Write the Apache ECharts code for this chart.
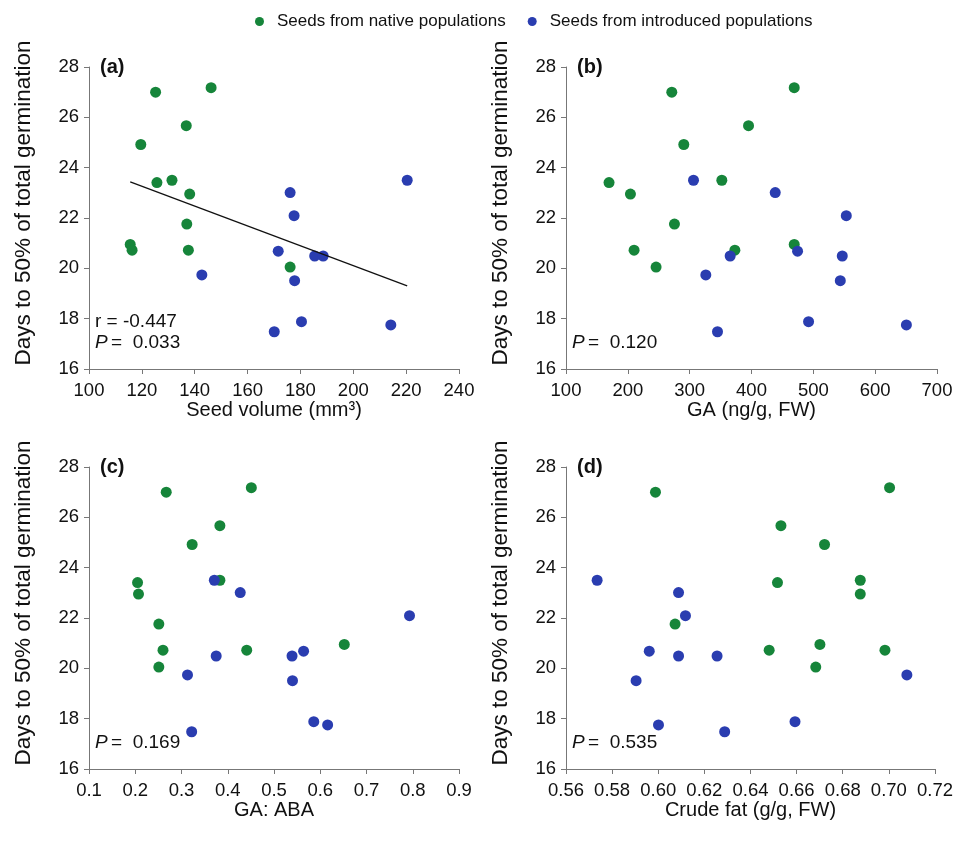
<!DOCTYPE html>
<html>
<head>
<meta charset="utf-8">
<script src="https://cdn.jsdelivr.net/npm/echarts@6/dist/echarts.min.js"></script>
<style>
  html, body { margin: 0; padding: 0; background: #ffffff; }
  #chart { width: 956px; height: 843px; }
</style>
</head>
<body>
<div id="chart"></div>
<script>
// Days to 50% of total germination, one value per seed population
const nativeDays     = [27.0, 27.18, 25.67, 24.92, 23.41, 23.5, 22.95, 21.76, 20.95, 20.72, 20.72, 20.05];
const introducedDays = [23.5, 23.01, 22.09, 20.68, 20.49, 20.49, 19.74, 19.51, 17.88, 17.75, 17.48];

// Seed volume (mm3)
const nativeVolume     = [125.2, 146.2, 136.8, 119.6, 125.7, 131.4, 138.1, 137.0, 115.6, 116.3, 137.6, 176.1];
const introducedVolume = [220.4, 176.1, 177.6, 171.6, 185.4, 188.6, 142.7, 177.8, 180.4, 214.2, 170.1];

// GA (ng/g, FW)
const nativeGA     = [271.1, 469.1, 395.2, 290.5, 169.6, 352.0, 204.2, 275.4, 469.1, 210.1, 373.1, 245.7];
const introducedGA = [306.2, 438.4, 553.3, 474.5, 365.5, 546.8, 326.1, 543.6, 492.3, 650.5, 345.0];

// GA:ABA ratio
const nativeRatio     = [0.267, 0.451, 0.383, 0.323, 0.205, 0.383, 0.207, 0.251, 0.652, 0.260, 0.441, 0.251];
const introducedRatio = [0.371, 0.427, 0.793, 0.564, 0.375, 0.539, 0.313, 0.540, 0.586, 0.616, 0.322];

// Crude fat (g/g, FW)
const nativeFat     = [0.5988, 0.7003, 0.6532, 0.6721, 0.6517, 0.6876, 0.6876, 0.6073, 0.6701, 0.6481, 0.6983, 0.6683];
const introducedFat = [0.5735, 0.6088, 0.6118, 0.5961, 0.6088, 0.6255, 0.7078, 0.5904, 0.6593, 0.6001, 0.6288];

// Panel annotations
const panelLetters = ['(a)', '(b)', '(c)', '(d)'];
const pValues = ['0.033', '0.120', '0.169', '0.535'];
const rValueA = '-0.447';

const GREEN = '#16853a';
const BLUE = '#2a3db0';
const FONT = '"Liberation Sans", Arial, sans-serif';
const AXIS_COLOR = '#777777';
const TEXT_COLOR = '#111111';

const pair = (xs, ys) => xs.map((x, i) => [x, ys[i]]);

// Least-squares fit for panel (a), drawn across the observed volume range
const allVol = nativeVolume.concat(introducedVolume);
const allDays = nativeDays.concat(introducedDays);
const n = allVol.length;
const mx = allVol.reduce((a, b) => a + b, 0) / n;
const my = allDays.reduce((a, b) => a + b, 0) / n;
let sxy = 0, sxx = 0;
for (let i = 0; i < n; i++) { sxy += (allVol[i] - mx) * (allDays[i] - my); sxx += (allVol[i] - mx) ** 2; }
const slope = sxy / sxx;
const intercept = my - slope * mx;
const xMin = Math.min(...allVol), xMax = Math.max(...allVol);
const fitLine = [[xMin, intercept + slope * xMin], [xMax, intercept + slope * xMax]];

const grids = [
  { left: 89,  top: 67,  width: 370, height: 302 },
  { left: 566, top: 67,  width: 371, height: 302 },
  { left: 89,  top: 467, width: 370, height: 302 },
  { left: 566, top: 467, width: 371, height: 302 }
];

const xSpecs = [
  { name: 'Seed volume (mm³)', min: 100, max: 240, interval: 20, fmt: v => String(v) },
  { name: 'GA (ng/g, FW)', min: 100, max: 700, interval: 100, fmt: v => String(v) },
  { name: 'GA: ABA', min: 0.1, max: 0.9, interval: 0.1, fmt: v => v.toFixed(1) },
  { name: 'Crude fat (g/g, FW)', min: 0.56, max: 0.72, interval: 0.02, fmt: v => v.toFixed(2) }
];

const axisLineStyle = { show: true, lineStyle: { color: AXIS_COLOR, width: 1 } };

const xAxes = xSpecs.map((s, i) => ({
  type: 'value', gridIndex: i, min: s.min, max: s.max, interval: s.interval,
  name: s.name, nameLocation: 'middle', nameGap: 29,
  nameTextStyle: { fontFamily: FONT, fontSize: 20, color: TEXT_COLOR },
  axisLine: axisLineStyle,
  axisTick: { show: true, inside: false, length: 5, lineStyle: { color: AXIS_COLOR } },
  axisLabel: { fontFamily: FONT, fontSize: 18.5, color: TEXT_COLOR, margin: 12, formatter: s.fmt },
  splitLine: { show: false }
}));

const yAxes = grids.map((g, i) => ({
  type: 'value', gridIndex: i, min: 16, max: 28, interval: 2,
  name: 'Days to 50% of total germination', nameLocation: 'middle', nameGap: 54,
  nameTextStyle: { fontFamily: FONT, fontSize: 22.5, color: TEXT_COLOR, padding: [0, 0, 0, 30] },
  axisLine: axisLineStyle,
  axisTick: { show: true, inside: false, length: 5, lineStyle: { color: AXIS_COLOR } },
  axisLabel: { fontFamily: FONT, fontSize: 18.5, color: TEXT_COLOR, margin: 10 },
  splitLine: { show: false }
}));

const panelX = [
  [nativeVolume, introducedVolume],
  [nativeGA, introducedGA],
  [nativeRatio, introducedRatio],
  [nativeFat, introducedFat]
];

const series = [];
panelX.forEach((xs, i) => {
  series.push({
    name: 'Seeds from native populations', type: 'scatter', xAxisIndex: i, yAxisIndex: i,
    symbolSize: 11, itemStyle: { color: GREEN, opacity: 1 }, data: pair(xs[0], nativeDays), z: 3
  });
  series.push({
    name: 'Seeds from introduced populations', type: 'scatter', xAxisIndex: i, yAxisIndex: i,
    symbolSize: 11, itemStyle: { color: BLUE, opacity: 1 }, data: pair(xs[1], introducedDays), z: 3
  });
});
series.push({
  type: 'line', xAxisIndex: 0, yAxisIndex: 0, data: fitLine, showSymbol: false, symbol: 'none',
  lineStyle: { color: '#111111', width: 1.3 }, silent: true, z: 4
});

// Panel letters and statistics text
const graphics = [];
grids.forEach((g, i) => {
  graphics.push({
    type: 'text', left: g.left + 11, top: g.top - 10,
    style: { text: panelLetters[i], font: 'bold 20px ' + FONT, fill: TEXT_COLOR }
  });
  graphics.push({
    type: 'text', left: g.left + 6, top: g.top + 266,
    style: {
      text: '{i|P} {n|=  ' + pValues[i] + '}',
      rich: {
        i: { font: 'italic 19px ' + FONT, fill: TEXT_COLOR },
        n: { font: '19px ' + FONT, fill: TEXT_COLOR }
      }
    }
  });
});
graphics.push({
  type: 'text', left: grids[0].left + 6, top: grids[0].top + 245,
  style: { text: 'r = ' + rValueA, font: '19px ' + FONT, fill: TEXT_COLOR }
});

const chart = echarts.init(document.getElementById('chart'), null, { renderer: 'canvas' });
chart.setOption({
  backgroundColor: '#ffffff',
  animation: false,
  legend: {
    top: 8, left: 250, itemGap: 22,
    icon: 'circle', itemWidth: 9, itemHeight: 9, itemStyle: { borderWidth: 0 },
    textStyle: { fontFamily: FONT, fontSize: 17, color: TEXT_COLOR, padding: [0, 0, 0, 8] },
    data: ['Seeds from native populations', 'Seeds from introduced populations']
  },
  grid: grids,
  xAxis: xAxes,
  yAxis: yAxes,
  series: series,
  graphic: graphics
});
</script>
</body>
</html>
